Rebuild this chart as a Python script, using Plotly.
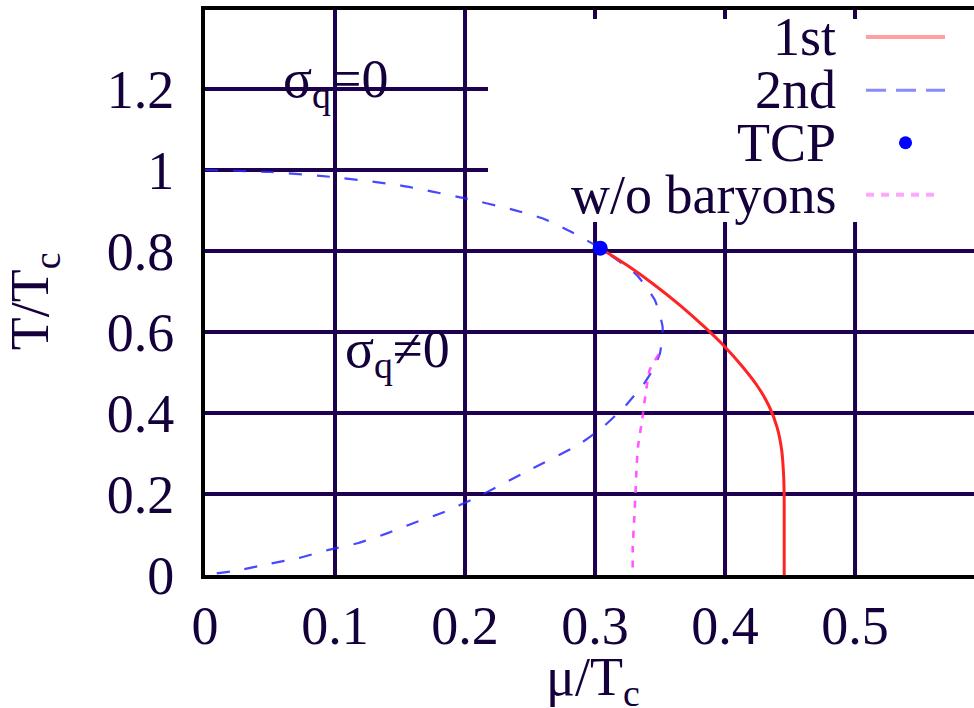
import plotly.graph_objects as go

# ---- data ----
mu_2nd = [0.0, 0.05, 0.10, 0.15, 0.20, 0.238, 0.26, 0.28, 0.304,
          0.332, 0.346, 0.352, 0.350, 0.345, 0.338, 0.324, 0.306, 0.287,
          0.25, 0.208, 0.182, 0.160, 0.141, 0.118, 0.095, 0.072, 0.050, 0.025, 0.0]
T_2nd = [1.0, 0.995, 0.982, 0.962, 0.930, 0.901, 0.880, 0.850, 0.807,
         0.741, 0.679, 0.612, 0.548, 0.510, 0.474, 0.420, 0.365, 0.321,
         0.260, 0.190, 0.153, 0.128, 0.104, 0.079, 0.062, 0.042, 0.028, 0.011, 0.0]

mu_1st = [0.304, 0.325, 0.345, 0.365, 0.385, 0.400, 0.413, 0.425, 0.434,
          0.440, 0.4435, 0.445, 0.4455, 0.4455]
T_1st = [0.807, 0.764, 0.718, 0.667, 0.610, 0.563, 0.516, 0.466, 0.416,
         0.365, 0.310, 0.250, 0.190, 0.0]

mu_nob = [0.349, 0.342, 0.339, 0.336, 0.333, 0.332, 0.331, 0.330, 0.329, 0.329]
T_nob = [0.545, 0.506, 0.449, 0.378, 0.316, 0.267, 0.193, 0.128, 0.069, 0.0]

tcp_mu = [0.304]
tcp_T = [0.807]

x_ticks = [0, 0.1, 0.2, 0.3, 0.4, 0.5]
x_tick_text = ["0", "0.1", "0.2", "0.3", "0.4", "0.5"]
y_ticks = [0, 0.2, 0.4, 0.6, 0.8, 1.0, 1.2]
y_tick_text = ["0", "0.2", "0.4", "0.6", "0.8", "1", "1.2"]
legend_labels = ["1st", "2nd", "TCP", "w/o baryons"]

# ---- styles ----
FONT = "Liberation Serif"
TXT = "#14003a"
GRID = "#1e0050"
RED = "#ff2424"
BLUE = "rgba(40,40,255,0.85)"
MAG = "rgba(255,60,255,0.85)"

X_MAX = 0.5915
Y_MAX = 1.395
# legend box (paper coords)
LB_X0, LB_Y0 = 0.368, 0.625

fig = go.Figure()
fig.add_trace(go.Scatter(x=mu_2nd, y=T_2nd, mode="lines",
                         line=dict(color=BLUE, width=2.2, dash="13px,15px", shape="spline", smoothing=0.5),
                         name=legend_labels[1], showlegend=False))
fig.add_trace(go.Scatter(x=mu_1st, y=T_1st, mode="lines",
                         line=dict(color=RED, width=3, shape="spline", smoothing=0.6),
                         name=legend_labels[0], showlegend=False))
fig.add_trace(go.Scatter(x=mu_nob, y=T_nob, mode="lines",
                         line=dict(color=MAG, width=2.6, dash="7px,8px", shape="spline", smoothing=0.5),
                         name=legend_labels[3], showlegend=False))
fig.add_trace(go.Scatter(x=tcp_mu, y=tcp_T, mode="markers",
                         marker=dict(color="#0000ff", size=15),
                         name=legend_labels[2], showlegend=False))

shapes = []
# grid lines, interrupted by the key box
for xv in x_ticks[1:]:
    top = 1.0 if xv / X_MAX < LB_X0 else LB_Y0
    shapes.append(dict(type="line", xref="x", yref="paper", x0=xv, x1=xv, y0=0, y1=top,
                       line=dict(color=GRID, width=4), layer="below"))
for yv in y_ticks[1:]:
    right = 1.0 if yv / Y_MAX < LB_Y0 else LB_X0
    shapes.append(dict(type="line", xref="paper", yref="y", x0=0, x1=right, y0=yv, y1=yv,
                       line=dict(color=GRID, width=4), layer="below"))

# ---- custom legend (text on the left, sample on the right) ----
rows_y = [0.952, 0.858, 0.765, 0.673]
lab_x = 0.823
s0, s1 = 0.8596, 0.9623
shapes.append(dict(type="line", xref="paper", yref="paper", x0=s0, x1=s1, y0=rows_y[0], y1=rows_y[0],
                   line=dict(color="rgba(255,80,80,0.55)", width=4), layer="above"))
shapes.append(dict(type="line", xref="paper", yref="paper", x0=s0, x1=s1, y0=rows_y[1], y1=rows_y[1],
                   line=dict(color="rgba(60,60,255,0.6)", width=3, dash="20px,10px"), layer="above"))
cx = (s0 + s1) / 2
shapes.append(dict(type="circle", xref="paper", yref="paper",
                   x0=cx - 0.0085, x1=cx + 0.0085,
                   y0=rows_y[2] - 0.0115, y1=rows_y[2] + 0.0115,
                   fillcolor="#0000ff", line=dict(width=0), layer="above"))
shapes.append(dict(type="line", xref="paper", yref="paper", x0=s0, x1=s1 - 0.006, y0=rows_y[3], y1=rows_y[3],
                   line=dict(color="rgba(255,80,255,0.5)", width=4, dash="8px,7px"), layer="above"))

annotations = []
for lab, yy in zip(legend_labels, rows_y):
    annotations.append(dict(text=lab, xref="paper", yref="paper", x=lab_x, y=yy,
                            xanchor="right", yanchor="middle", showarrow=False,
                            font=dict(family=FONT, size=54, color=TXT)))

annotations.append(dict(text="σ<sub>q</sub>=0", x=0.1, y=1.215, xref="x", yref="y",
                        showarrow=False, font=dict(family=FONT, size=54, color=TXT)))
annotations.append(dict(text="σ<sub>q</sub>≠0", x=0.148, y=0.55, xref="x", yref="y",
                        showarrow=False, font=dict(family=FONT, size=54, color=TXT)))

# axis titles
annotations.append(dict(text="μ/T<sub>c</sub>", xref="paper", yref="paper", x=0.505, y=-0.186,
                        xanchor="center", yanchor="middle", showarrow=False,
                        font=dict(family=FONT, size=54, color=TXT)))
annotations.append(dict(text="T/T<sub>c</sub>", xref="paper", yref="paper", x=-0.222, y=0.485,
                        xanchor="center", yanchor="middle", showarrow=False, textangle=-90,
                        font=dict(family=FONT, size=54, color=TXT)))

fig.update_layout(
    width=974, height=708,
    margin=dict(l=205, r=0, t=10, b=133),
    paper_bgcolor="white", plot_bgcolor="white",
    shapes=shapes, annotations=annotations,
    showlegend=False,
    xaxis=dict(range=[0, X_MAX], tickvals=x_ticks, ticktext=x_tick_text,
               showgrid=False, zeroline=False,
               showline=True, linecolor="black", linewidth=4, mirror="ticks",
               ticks="inside", ticklen=9, tickwidth=4, tickcolor=GRID,
               ticklabelstandoff=0,
               tickfont=dict(family=FONT, size=54, color=TXT)),
    yaxis=dict(range=[0, Y_MAX], tickvals=y_ticks, ticktext=y_tick_text,
               showgrid=False, zeroline=False,
               showline=True, linecolor="black", linewidth=4, mirror=False,
               ticks="", ticklabelstandoff=16,
               tickfont=dict(family=FONT, size=54, color=TXT)),
)

fig.write_html("out.html")
